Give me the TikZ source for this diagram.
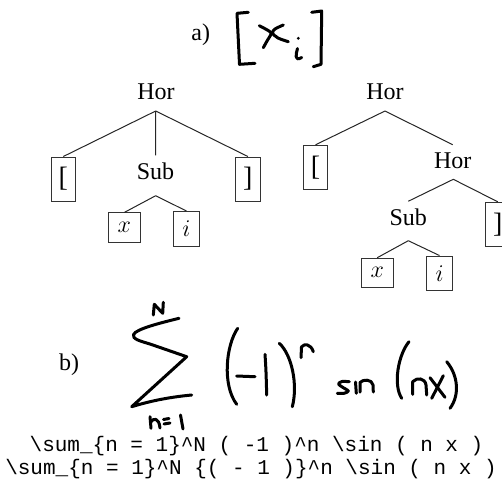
\documentclass[tikz,border=0pt]{standalone}
\usepackage{fontspec}
\setmainfont{Liberation Serif}
\setmonofont{Liberation Mono}
\begin{document}
\begin{tikzpicture}[x=0.5pt,y=-0.5pt,
  lbl/.style={font=\fontsize{12}{14}\selectfont, inner sep=3.6pt, anchor=base},
  leaf/.style={draw=black!80, line width=0.5pt, inner sep=4.7pt, font=\fontsize{12}{14}\selectfont},
  brk/.style={leaf, minimum width=12.3pt, minimum height=22pt, inner sep=0pt, font=\fontsize{14}{16}\selectfont},
  edge/.style={line width=0.5pt, draw=black!85},
  hand/.style={line width=1.5pt, line cap=round, line join=round},
  code/.style={font=\ttfamily\fontsize{10.5}{12}\selectfont, anchor=base, inner sep=0pt}]
\useasboundingbox (0,0) rectangle (502,499);

% ---------- a) ----------
\node[lbl] (a) at (200.8,40.7) {a)};
% handwritten [x_i]
\draw[hand] (248.3,12.3) -- (237,13.3) -- (239.5,64.3) -- (255,63.3);
\draw[hand] plot[smooth] coordinates {(259.3,25.7) (269,31) (271,34) (267,41) (263.3,47.7)};
\draw[hand] plot[smooth] coordinates {(283.3,25) (275,29) (272.5,33) (278,38) (288.3,41.7)};
\fill (298.3,38.3) circle[radius=1.6];
\draw[hand] (297.5,48.5) .. controls (296,54) and (294,62) .. (301.7,57.5);
\draw[hand] (311.7,12.3) -- (321.7,11) -- (321,64.3) -- (313.3,66.7);

% ---------- left tree ----------
\node[lbl] (hor1) at (156,99.3) {Hor};
\coordinate (j1) at (155.7,111);
\node[brk] (lb1) at (63.3,179) {[};
\node[lbl] (sub1) at (155.5,179.5) {Sub};
\node[brk] (rb1) at (247.9,179) {]};
\draw[edge] (j1) -- (lb1.north) (j1) -- (sub1.north) (j1) -- (rb1.north);
\coordinate (j2) at (155.7,195.7);
\node[leaf] (x1) at (124.3,227.5) {$x$};
\node[leaf] (i1) at (186.5,228.8) {$i$};
\draw[edge] (j2) -- (x1.north) (j2) -- (i1.north);

% ---------- right tree ----------
\node[lbl] (hor2) at (385,99.3) {Hor};
\coordinate (j3) at (385,111);
\node[brk] (lb2) at (315.5,167.3) {[};
\node[lbl] (hor3) at (452.7,168) {Hor};
\draw[edge] (j3) -- (lb2.north) (j3) -- (hor3.north);
\coordinate (j4) at (453.3,179.3);
\node[lbl] (sub2) at (408.3,225.5) {Sub};
\node[brk] (rb2) at (497.8,224.3) {]};
\draw[edge] (j4) -- (sub2.north) (j4) -- (rb2.north);
\coordinate (j5) at (408.3,240.7);
\node[leaf] (x2) at (377.2,272.8) {$x$};
\node[leaf] (i2) at (439.5,273.3) {$i$};
\draw[edge] (j5) -- (x2.north) (j5) -- (i2.north);

% ---------- b) ----------
\node[lbl] (b) at (69,370.7) {b)};
% N
\draw[hand] (153.3,315) -- (154.3,304.3) -- (162.7,313.3) -- (163.3,302.3);
% sigma
\draw[hand] (179,318.3) .. controls (160,323) and (136,329) .. (133.5,334.5)
  .. controls (132,339) and (140,341) .. (150,344) -- (186.7,356.7) -- (131.7,406.7)
  .. controls (150,401) and (170,397) .. (191.7,395);
% n=1
\draw[hand] (150,416.7) -- (151,428.3);
\draw[hand] (150.8,422) .. controls (153,418) and (159,417) .. (160,428);
\draw[hand] (163.5,419.5) -- (169,418.5);
\draw[hand] (164,424) -- (170,423);
\draw[hand] (180.5,415) -- (183,429);
% ( -1 )^n
\draw[hand] (237.7,328.3) .. controls (226,345) and (222,385) .. (236.7,404.3);
\draw[hand] (236.7,376) -- (255,376.7);
\draw[hand] (265,354.3) .. controls (266,370) .. (266.7,395);
\draw[hand] (279.3,343.3) .. controls (292,355) and (298,385) .. (292.3,406.7);
\draw[hand] (301,357.7) -- (301.5,347) .. controls (304,343) and (311,344) .. (313.3,351.7);
% sin
\draw[hand] plot[smooth] coordinates {(349.3,381.7) (342,381.5) (338.5,384) (343,387.5) (348.3,391) (344,393.3) (337.3,393.3)};
\draw[hand] (355.5,382) -- (356.3,393.3);
\draw[hand] (360,392) -- (360,382.5) .. controls (363,379) and (372,379) .. (373,385) -- (373.3,392);
% (nx)
\draw[hand] (409,341.7) .. controls (398,355) and (393,385) .. (401.7,398.3);
\draw[hand] (412.7,394.3) -- (412.7,381.7) .. controls (417,377) and (425,378) .. (426,385) -- (426.7,395);
\draw[hand] (430,377.7) -- (445,397.3);
\draw[hand] (443.3,375.7) -- (431.7,398.3);
\draw[hand] (446.7,361.7) .. controls (458,375) and (460,395) .. (450,408.3);

% ---------- code ----------
\node[code] (c1) at (256.5,451.5) {\textbackslash sum\_\{n = 1\}\textasciicircum N ( -1 )\textasciicircum n \textbackslash sin ( n x )};
\node[code] (c2) at (251,474) {\textbackslash sum\_\{n = 1\}\textasciicircum N \{( - 1 )\}\textasciicircum n \textbackslash sin ( n x )};
\end{tikzpicture}
\end{document}
